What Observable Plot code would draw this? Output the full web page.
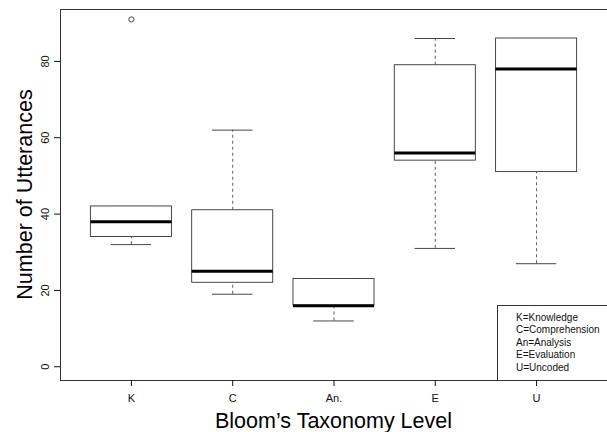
<!DOCTYPE html>
<html>
<head>
<meta charset="utf-8">
<script src="https://cdn.jsdelivr.net/npm/d3@7"></script>
<script src="https://cdn.jsdelivr.net/npm/@observablehq/plot@0.6"></script>
<style>
  body { margin: 0; background: #fff; }
  #wrap { position: relative; width: 607px; height: 432px; font-family: "Liberation Sans", Arial, Helvetica, sans-serif; }
  #legend { position: absolute; left: 497px; top: 305px; width: 110px; height: 75px; box-sizing: border-box;
            border-left: 1px solid #333; border-top: 1px solid #333; background: #fff;
            font-size: 10px; line-height: 12.4px; padding: 6px 0 0 18px; color: #111; white-space: nowrap; }
</style>
</head>
<body>
<div id="wrap"></div>
<script>
// Bloom's taxonomy level groups
const levels = ["K", "C", "An.", "E", "U"];
const lowerWhisker = [32, 19, 12, 31, 27];
const q1 = [34, 22, 16, 54, 51];
const median = [38, 25, 16, 56, 78];
const q3 = [42, 41, 23, 79, 86];
const upperWhisker = [42, 62, 23, 86, 86];
const outlierLevel = ["K"];
const outlierValue = [91];
const yTicks = [0, 20, 40, 60, 80];
const legendLines = ["K=Knowledge", "C=Comprehension", "An=Analysis", "E=Evaluation", "U=Uncoded"];

const boxes = levels.map((l, i) => ({
  level: l, pos: i + 1,
  lo: lowerWhisker[i], q1: q1[i], med: median[i], q3: q3[i], hi: upperWhisker[i]
}));
const outliers = outlierLevel.map((l, i) => ({ pos: levels.indexOf(l) + 1, v: outlierValue[i] }));

const chart = Plot.plot({
  width: 607,
  height: 432,
  marginLeft: 60,
  marginRight: 0,
  marginTop: 9,
  marginBottom: 52,
  style: { fontFamily: "Liberation Sans, Arial, Helvetica, sans-serif", background: "#fff", color: "#111" },
  x: {
    type: "linear",
    domain: [0.3, 5.7],
    label: null
  },
  y: {
    domain: [-3.6, 93.6],
    label: null
  },
  marks: [
    Plot.frame({ stroke: "#333" }),
    // whiskers (dashed)
    Plot.ruleX(boxes.filter(d => d.hi > d.q3), { x: "pos", y1: "q3", y2: "hi", strokeDasharray: "3,3", stroke: "#333", strokeWidth: 0.8 }),
    Plot.ruleX(boxes.filter(d => d.lo < d.q1), { x: "pos", y1: "lo", y2: "q1", strokeDasharray: "3,3", stroke: "#333", strokeWidth: 0.8 }),
    // caps
    Plot.ruleY(boxes, { y: "hi", x1: d => d.pos - 0.2, x2: d => d.pos + 0.2, stroke: "#333", strokeWidth: 0.9 }),
    Plot.ruleY(boxes, { y: "lo", x1: d => d.pos - 0.2, x2: d => d.pos + 0.2, stroke: "#333", strokeWidth: 0.9 }),
    // boxes
    Plot.rect(boxes, { x1: d => d.pos - 0.4, x2: d => d.pos + 0.4, y1: "q1", y2: "q3", fill: "white", stroke: "#333", strokeWidth: 0.9 }),
    // medians
    Plot.ruleY(boxes, { y: "med", x1: d => d.pos - 0.4, x2: d => d.pos + 0.4, stroke: "#000", strokeWidth: 3 }),
    // outliers
    Plot.dot(outliers, { x: "pos", y: "v", r: 2.6, stroke: "#333", strokeWidth: 0.9, fill: "none" }),
    // axes
    Plot.axisX({ ticks: levels.map((_, i) => i + 1), tickFormat: d => levels[d - 1], tickSize: 6, tickPadding: 8, fontSize: 11, label: null }),
    Plot.axisY({ ticks: yTicks, tickSize: 6, tickPadding: 6, fontSize: 11, tickRotate: -90, textAnchor: "middle", label: null })
  ]
});

const svg = d3.select(chart);
// axis titles
svg.append("text")
  .attr("x", 333.5).attr("y", 428)
  .attr("text-anchor", "middle")
  .attr("font-size", 21.5)
  .attr("font-family", "Liberation Sans, Arial, Helvetica, sans-serif")
  .attr("fill", "#000")
  .text("Bloom\u2019s Taxonomy Level");
svg.append("text")
  .attr("transform", "translate(31.5,194.5) rotate(-90)")
  .attr("text-anchor", "middle")
  .attr("font-size", 21.5)
  .attr("font-family", "Liberation Sans, Arial, Helvetica, sans-serif")
  .attr("fill", "#000")
  .text("Number of Utterances");

const wrap = document.getElementById("wrap");
wrap.appendChild(chart);
const leg = document.createElement("div");
leg.id = "legend";
leg.innerHTML = legendLines.map(t => `<div>${t}</div>`).join("");
wrap.appendChild(leg);
</script>
</body>
</html>
